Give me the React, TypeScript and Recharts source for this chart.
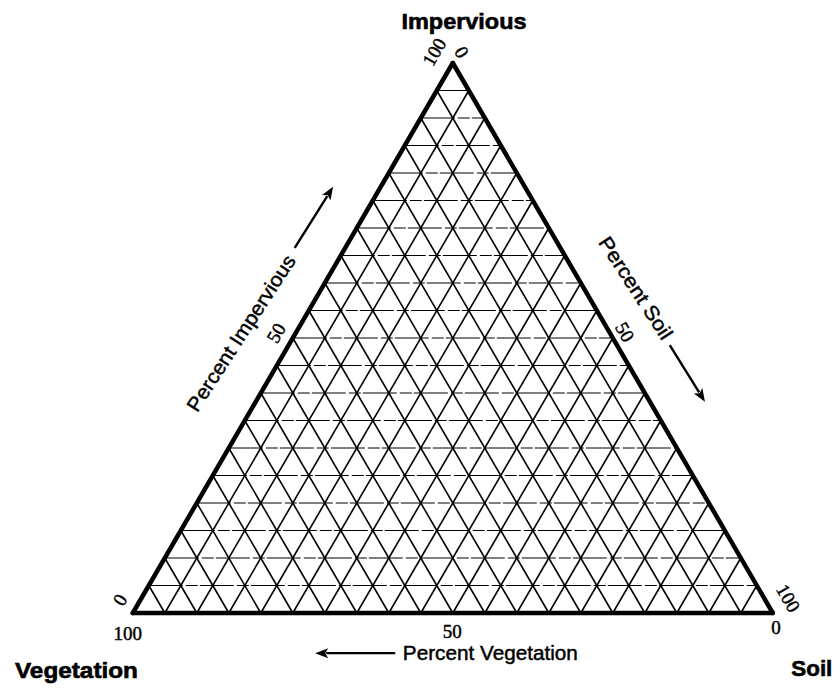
import React from 'react'
import { ComposedChart, XAxis, YAxis, ReferenceLine, Scatter } from 'recharts'

// ternary grid every 5 percent
const GRID_STEPS = [5, 10, 15, 20, 25, 30, 35, 40, 45, 50, 55, 60, 65, 70, 75, 80, 85, 90, 95]

const IMPERVIOUS_TICKS = [0, 50, 100]
const SOIL_TICKS = [0, 50, 100]
const VEGETATION_TICKS = [100, 50, 0]

const CORNER_TITLES = ['Impervious', 'Vegetation', 'Soil']
const AXIS_NAMES = ['Percent Impervious', 'Percent Soil', 'Percent Vegetation']

const SANS = '"Liberation Sans", Arial, Helvetica, sans-serif'
const SERIF = '"Liberation Serif", "Times New Roman", serif'

// impervious is the vertical share, soil runs left -> right along the base
const toXY = (imp: number, soil: number) => ({ x: soil + imp / 2, y: imp })

type Seg = [{ x: number; y: number }, { x: number; y: number }]

const gridLines: Seg[] = [
  ...GRID_STEPS.map((s) => [toXY(s, 0), toXY(s, 100 - s)] as Seg),
  ...GRID_STEPS.map((s) => [toXY(0, s), toXY(100 - s, s)] as Seg),
  ...GRID_STEPS.map((v) => [toXY(0, 100 - v), toXY(100 - v, 0)] as Seg),
]

const edges: Seg[] = [
  [toXY(0, 0), toXY(100, 0)],
  [toXY(100, 0), toXY(0, 100)],
  [toXY(0, 0), toXY(0, 100)],
]

// label anchors, in chart units
const tickPos: Record<string, Record<number, [number, number]>> = {
  imp: { 0: [-2.0, 2.4], 50: [22.4, 50.9], 100: [47.1, 102.0] },
  soil: { 0: [51.4, 102.0], 50: [76.9, 51.1], 100: [102.4, 2.7] },
  veg: { 100: [-0.8, -3.8], 50: [49.9, -3.3], 0: [100.5, -2.7] },
}

type Lbl = {
  x: number
  y: number
  text: string
  angle: number
  size: number
  bold?: boolean
  serif?: boolean
  anchor?: 'start' | 'middle' | 'end'
  len?: number
}

const labels: Lbl[] = [
  { x: 51.75, y: 107.6, text: CORNER_TITLES[0], angle: 0, size: 22, bold: true, len: 125 },
  { x: -8.8, y: -10.4, text: CORNER_TITLES[1], angle: 0, size: 22, bold: true, len: 123 },
  { x: 106.1, y: -10.0, text: CORNER_TITLES[2], angle: 0, size: 22, bold: true, len: 41 },
  { x: 16.9, y: 50.9, text: AXIS_NAMES[0], angle: -57, size: 20, len: 182 },
  { x: 78.6, y: 59.1, text: AXIS_NAMES[1], angle: 57, size: 20, len: 118 },
  { x: 42.2, y: -7.3, text: AXIS_NAMES[2], angle: 0, size: 20, anchor: 'start', len: 175 },
  ...IMPERVIOUS_TICKS.map((t) => ({
    x: tickPos.imp[t][0], y: tickPos.imp[t][1], text: String(t), angle: -60, size: 19, serif: true,
  })),
  ...SOIL_TICKS.map((t) => ({
    x: tickPos.soil[t][0], y: tickPos.soil[t][1], text: String(t), angle: 60, size: 19, serif: true,
  })),
  ...VEGETATION_TICKS.map((t) => ({
    x: tickPos.veg[t][0], y: tickPos.veg[t][1], text: String(t), angle: 0, size: 19, serif: true,
  })),
]

const arrows: Seg[] = [
  [{ x: 25.3, y: 66.4 }, { x: 31.3, y: 77.5 }],
  [{ x: 83.9, y: 48.7 }, { x: 89.4, y: 38.4 }],
  [{ x: 41.0, y: -7.3 }, { x: 28.5, y: -7.3 }],
]

function LabelShape(props: any) {
  const { cx, cy, payload } = props
  const p = payload as Lbl
  return (
    <text
      x={cx}
      y={cy}
      transform={p.angle ? `rotate(${p.angle} ${cx} ${cy})` : undefined}
      textAnchor={p.anchor ?? 'middle'}
      dominantBaseline="central"
      fontFamily={p.serif ? SERIF : SANS}
      fontWeight={p.bold ? 700 : 400}
      fontSize={p.size}
      fill="#000"
      stroke="#000"
      strokeWidth={p.bold ? 0.6 : 0.45}
      textLength={p.len}
      lengthAdjust={p.len ? 'spacingAndGlyphs' : undefined}
    >
      {p.text}
    </text>
  )
}

function ArrowShape(props: any) {
  const { x1, y1, x2, y2 } = props
  const a = Math.atan2(y2 - y1, x2 - x1)
  const hl = 13
  const hw = 5
  const bx = x2 - hl * Math.cos(a)
  const by = y2 - hl * Math.sin(a)
  const nx = -Math.sin(a) * hw
  const ny = Math.cos(a) * hw
  return (
    <g>
      <line x1={x1} y1={y1} x2={bx + 2 * Math.cos(a)} y2={by + 2 * Math.sin(a)} stroke="#000" strokeWidth={2.4} />
      <path d={`M${x2},${y2} L${bx + nx},${by + ny} L${bx + 3 * Math.cos(a)},${by + 3 * Math.sin(a)} L${bx - nx},${by - ny} Z`} fill="#000" />
    </g>
  )
}

export default function App() {
  return (
    <ComposedChart width={832} height={682} margin={{ top: 0, right: 0, bottom: 0, left: 0 }}>
      <XAxis type="number" dataKey="x" domain={[-19.5, 110.5]} hide />
      <YAxis type="number" dataKey="y" domain={[-14, 110]} hide />
      {gridLines.map((seg, i) => (
        <ReferenceLine
          key={`g${i}`}
          segment={seg}
          stroke="#000"
          strokeWidth={i < GRID_STEPS.length ? 1 : 1.6}
          strokeDasharray={i < GRID_STEPS.length ? '34 3 12 2' : undefined}
          ifOverflow="visible"
        />
      ))}
      {edges.map((seg, i) => (
        <ReferenceLine key={`e${i}`} segment={seg} stroke="#000" strokeWidth={4.5} strokeLinecap="round" ifOverflow="visible" />
      ))}
      {arrows.map((seg, i) => (
        <ReferenceLine key={`a${i}`} segment={seg} ifOverflow="visible" shape={ArrowShape} />
      ))}
      <Scatter data={labels} dataKey="y" shape={LabelShape} isAnimationActive={false} />
    </ComposedChart>
  )
}
